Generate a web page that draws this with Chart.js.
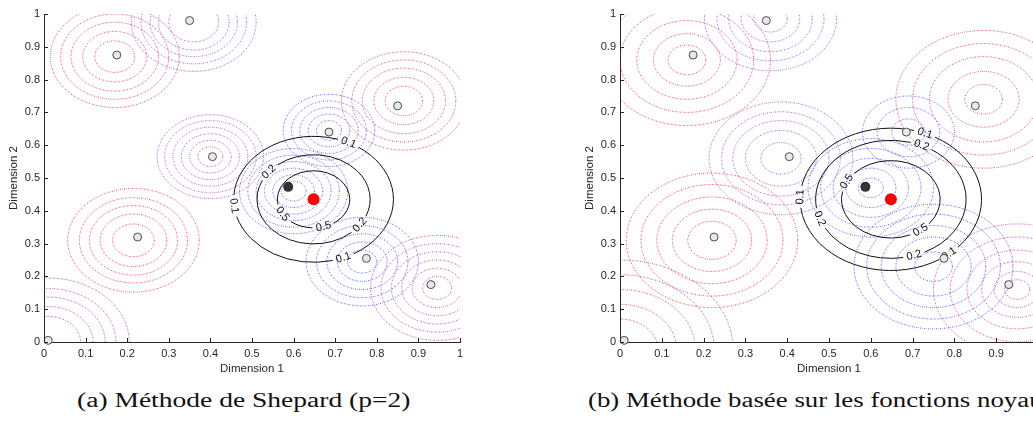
<!DOCTYPE html>
<html>
<head>
<meta charset="utf-8">
<script src="https://cdn.jsdelivr.net/npm/chart.js@4.4.1/dist/chart.umd.min.js"></script>
<style>
  html, body { margin: 0; padding: 0; background: #fff; overflow: hidden; width: 1033px; height: 441px; }
  .panel { position: absolute; top: 0; width: 480px; height: 380px; }
  .caption { position: absolute; top: 388px; font-family: "Liberation Serif", "DejaVu Serif", serif; font-size: 20px; line-height: 24px; color: #111; white-space: nowrap; transform-origin: left center; }
</style>
</head>
<body>
<div class="panel" style="left:0px"><canvas id="chartA" width="480" height="380"></canvas></div>
<div class="panel" style="left:576px"><canvas id="chartB" width="480" height="380"></canvas></div>
<div class="caption" id="capA" style="left:77px">(a) Méthode de Shepard (p=2)</div>
<div class="caption" id="capB" style="left:588px">(b) Méthode basée sur les fonctions noyaux</div>
<script>
// training samples (open circles)
const sampleX = [0.01, 0.175, 0.35, 0.405, 0.685, 0.85, 0.225, 0.775, 0.93];
const sampleY = [0.005, 0.875, 0.98, 0.565, 0.64, 0.72, 0.32, 0.255, 0.175];
// nearest sample (dark dot) and query point (red dot)
const nearX = [0.587];
const nearY = [0.473];
const queryX = [0.648];
const queryY = [0.435];

// black contour levels around the query point, radius for each panel
const contourLevels = [0.1, 0.2, 0.5];
const contourRadiusA = [0.192, 0.136, 0.087];
const contourRadiusB = [0.217, 0.18, 0.118];

// dotted rings: centre + radii for every sample (last one = dark dot)
const ringCxA = [0.01, 0.17, 0.36, 0.40, 0.685, 0.865, 0.215, 0.765, 0.945, 0.60];
const ringCyA = [0.0, 0.87, 0.975, 0.565, 0.645, 0.735, 0.31, 0.245, 0.165, 0.46];
const ringRadiiA = [
    [0.078, 0.108, 0.137, 0.163, 0.195],
    [0.048, 0.077, 0.105, 0.13, 0.155],
    [0.06, 0.085, 0.105, 0.127, 0.15],
    [0.03, 0.05, 0.07, 0.09, 0.11, 0.128],
    [0.03, 0.05, 0.07, 0.09, 0.11],
    [0.045, 0.072, 0.1, 0.125, 0.15],
    [0.05, 0.08, 0.106, 0.13, 0.158],
    [0.035, 0.06, 0.085, 0.11, 0.135],
    [0.035, 0.06, 0.085, 0.11, 0.135, 0.16],
    [0.03, 0.05, 0.07, 0.09, 0.11, 0.13]
];
const ringCxB = [0.0, 0.16, 0.36, 0.385, 0.69, 0.87, 0.22, 0.75, 0.95, 0.60];
const ringCyB = [-0.02, 0.86, 0.985, 0.56, 0.64, 0.74, 0.31, 0.23, 0.16, 0.47];
const ringRadiiB = [
    [0.09, 0.135, 0.18, 0.225, 0.27],
    [0.045, 0.08, 0.12, 0.16, 0.2],
    [0.04, 0.07, 0.1, 0.128, 0.158],
    [0.048, 0.085, 0.115, 0.142, 0.172],
    [0.04, 0.075, 0.11],
    [0.045, 0.085, 0.13, 0.17, 0.21],
    [0.058, 0.095, 0.132, 0.17, 0.205],
    [0.045, 0.09, 0.125, 0.16, 0.19],
    [0.03, 0.055, 0.085, 0.12, 0.16, 0.2],
    [0.03, 0.06, 0.09, 0.12, 0.15]
];

// styling
const ringColors = ["rgb(170,20,170)", "rgb(225,10,75)", "rgb(120,50,230)", "rgb(150,40,200)", "rgb(60,50,245)",
    "rgb(205,20,100)", "rgb(240,10,40)", "rgb(40,40,250)", "rgb(195,20,135)", "rgb(50,50,250)"];
// where the contour labels sit on each ellipse (degrees, canvas orientation)
const labelAnglesA = [[68, 174, 296], [35, 218], [74, 149]];
const labelAnglesB = [[50, 182, 292], [72, 161, 294], [53, 207]];
const axisColor = "#262626";
const sansFont = '"Liberation Sans", Arial, sans-serif';

// draws the dotted rings and the labelled black contours under the points
const contourRings = {
    id: "contourRings",
    beforeDatasetsDraw(chart, args, opts) {
        const { ctx, chartArea: a, scales: { x, y } } = chart;
        const sx = v => x.getPixelForValue(v);
        const sy = v => y.getPixelForValue(v);
        ctx.save();
        ctx.beginPath();
        ctx.rect(a.left, a.top, a.right - a.left, a.bottom - a.top);
        ctx.clip();
        ctx.lineWidth = 1;

        opts.cx.forEach((cx, i) => {
            const cy = opts.cy[i];
            opts.radii[i].forEach(r => {
                const rx = sx(cx + r) - sx(cx);
                const ry = sy(cy) - sy(cy + r);
                // two passes give the dark / light dots of the original
                [[0.9, 0], [0.4, 2]].forEach(([alpha, off]) => {
                    ctx.globalAlpha = alpha;
                    ctx.strokeStyle = opts.colors[i];
                    ctx.setLineDash([1, 3]);
                    ctx.lineDashOffset = off;
                    ctx.beginPath();
                    ctx.ellipse(sx(cx), sy(cy), rx, ry, 0, 0, 2 * Math.PI);
                    ctx.stroke();
                });
            });
        });

        ctx.globalAlpha = 1;
        ctx.setLineDash([]);
        const px = sx(opts.center[0]);
        const py = sy(opts.center[1]);
        opts.levels.forEach((lev, j) => {
            const r = opts.contourRadius[j];
            const rx = sx(opts.center[0] + r) - px;
            const ry = py - sy(opts.center[1] + r);
            const angles = opts.labelAngles[j].map(d => d * Math.PI / 180).sort((p, q) => p - q);
            const gaps = angles.map(t => 11 / Math.hypot(rx * Math.sin(t), ry * Math.cos(t)));

            ctx.strokeStyle = "#111";
            ctx.lineWidth = 1;
            for (let k = 0; k < angles.length; k++) {
                const nk = (k + 1) % angles.length;
                let end = angles[nk] - gaps[nk];
                if (nk === 0) end += 2 * Math.PI;
                ctx.beginPath();
                ctx.ellipse(px, py, rx, ry, 0, angles[k] + gaps[k], end);
                ctx.stroke();
            }

            ctx.fillStyle = "#111";
            ctx.font = "11px " + sansFont;
            ctx.textAlign = "center";
            ctx.textBaseline = "middle";
            angles.forEach(t => {
                let rot = Math.atan2(ry * Math.cos(t), -rx * Math.sin(t));
                if (rot > Math.PI / 2) rot -= Math.PI;
                if (rot < -Math.PI / 2) rot += Math.PI;
                ctx.save();
                ctx.translate(px + rx * Math.cos(t), py + ry * Math.sin(t));
                ctx.rotate(rot);
                ctx.fillText(String(lev), 0, 0);
                ctx.restore();
            });
        });
        ctx.restore();
    }
};

// matlab-style tick marks pointing into the plot
const inwardTicks = {
    id: "inwardTicks",
    afterDraw(chart) {
        const { ctx, chartArea: a, scales: { x, y } } = chart;
        ctx.save();
        ctx.strokeStyle = axisColor;
        ctx.lineWidth = 1;
        ctx.beginPath();
        x.ticks.forEach(t => {
            const p = Math.round(x.getPixelForValue(t.value)) + 0.5;
            ctx.moveTo(p, a.bottom);
            ctx.lineTo(p, a.bottom - 4);
        });
        y.ticks.forEach(t => {
            const p = Math.round(y.getPixelForValue(t.value)) + 0.5;
            ctx.moveTo(a.left, p);
            ctx.lineTo(a.left + 4, p);
        });
        ctx.stroke();
        ctx.restore();
    }
};

function toPoints(xs, ys) {
    return xs.map((v, i) => ({ x: v, y: ys[i] }));
}

function makeChart(id, rightPad, rings) {
    const axis = (title, isX) => ({
        type: "linear",
        min: 0,
        max: 1,
        grid: { display: false, drawTicks: false },
        border: { color: axisColor, width: 1 },
        ticks: {
            stepSize: 0.1,
            padding: isX ? 5 : 4,
            color: axisColor,
            maxRotation: 0,
            font: { family: sansFont, size: 11 },
            callback: v => String(Number(v.toFixed(1)))
        },
        title: { display: true, text: title, color: axisColor, font: { family: sansFont, size: 11.5 }, padding: isX ? { top: 0, bottom: 4 } : { top: 7, bottom: 0 } },
        afterFit: s => { if (isX) s.height = 38; else s.width = 44; }
    });

    return new Chart(document.getElementById(id), {
        type: "scatter",
        data: {
            datasets: [
                { data: toPoints(sampleX, sampleY), pointRadius: 4, backgroundColor: "#e8e8e8", borderColor: "#4d4d4d", borderWidth: 1, clip: false },
                { data: toPoints(nearX, nearY), pointRadius: 5, backgroundColor: "#333333", borderWidth: 0, clip: false },
                { data: toPoints(queryX, queryY), pointRadius: 6, backgroundColor: "#ff0000", borderWidth: 0, clip: false }
            ]
        },
        options: {
            responsive: false,
            animation: false,
            events: [],
            layout: { padding: { left: 0, top: 14, right: rightPad, bottom: 0 } },
            plugins: { legend: { display: false }, tooltip: { enabled: false }, contourRings: rings },
            scales: { x: axis("Dimension 1", true), y: axis("Dimension 2", false) }
        },
        plugins: [contourRings, inwardTicks]
    });
}

makeChart("chartA", 20, {
    cx: ringCxA, cy: ringCyA, radii: ringRadiiA, colors: ringColors,
    center: [queryX[0], queryY[0]], levels: contourLevels, contourRadius: contourRadiusA, labelAngles: labelAnglesA
});
makeChart("chartB", 18, {
    cx: ringCxB, cy: ringCyB, radii: ringRadiiB, colors: ringColors,
    center: [queryX[0], queryY[0]], levels: contourLevels, contourRadius: contourRadiusB, labelAngles: labelAnglesB
});

// stretch the captions to the width of the LaTeX originals
const capA = document.getElementById("capA");
const capB = document.getElementById("capB");
const stretch = 333 / capA.offsetWidth;
capA.style.transform = "scaleX(" + stretch + ")";
capB.style.transform = "scaleX(" + (stretch * 0.975) + ")";
</script>
</body>
</html>
